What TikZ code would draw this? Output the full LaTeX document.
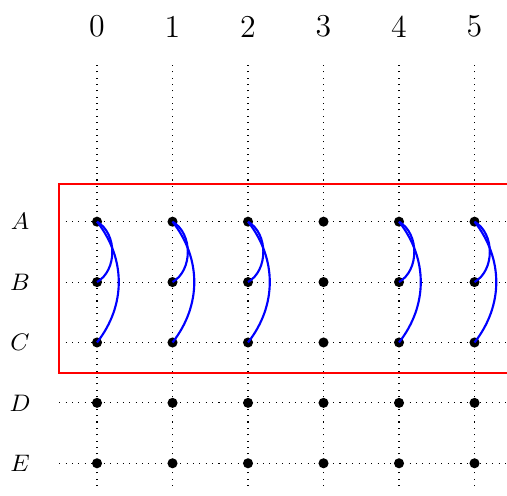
\documentclass[tikz,border=0pt]{standalone}
\usepackage{amsmath,amssymb}
\usepackage{tikz}
\usepackage{xcolor}

\begin{document}
\begin{tikzpicture}[
    x=1cm, y=0.8cm,
    grid line/.style={dotted, thin},
    state dot/.style={circle, fill=black, inner sep=0pt, minimum size=3.8pt},
    row label/.style={anchor=center, font=\small},
    col label/.style={anchor=center, font=\large},
    frame box/.style={draw=red, thick},
    link/.style={draw=blue, thick}
  ]
  \useasboundingbox (-1.285,-4.54) rectangle (5.43,3.67);

  % grid
  \foreach \c in {0,...,5} {
    \draw[grid line] (\c,-4.38) -- (\c,2.62);
    \node[col label] (col\c) at (\c,3.23) {\c};
  }
  \foreach \r/\y in {A/0,B/-1,C/-2,D/-3,E/-4} {
    \draw[grid line] (-0.5,\y) -- (5.5,\y);
    \node[row label] (lab\r) at (-1.02,\y) {$\r$};
    \foreach \c in {0,...,5}
      \node[state dot] (\r\c) at (\c,\y) {};
  }

  % frame round rows A to C
  \draw[frame box] (-0.5,0.62) rectangle (5.6,-2.5);

  % links
  \foreach \c in {0,1,2,4,5} {
    \draw[link] (A\c.center) to[bend left=60] (B\c.center);
    \draw[link] (A\c.center) to[bend left=38] (C\c.center);
  }
\end{tikzpicture}
\end{document}
